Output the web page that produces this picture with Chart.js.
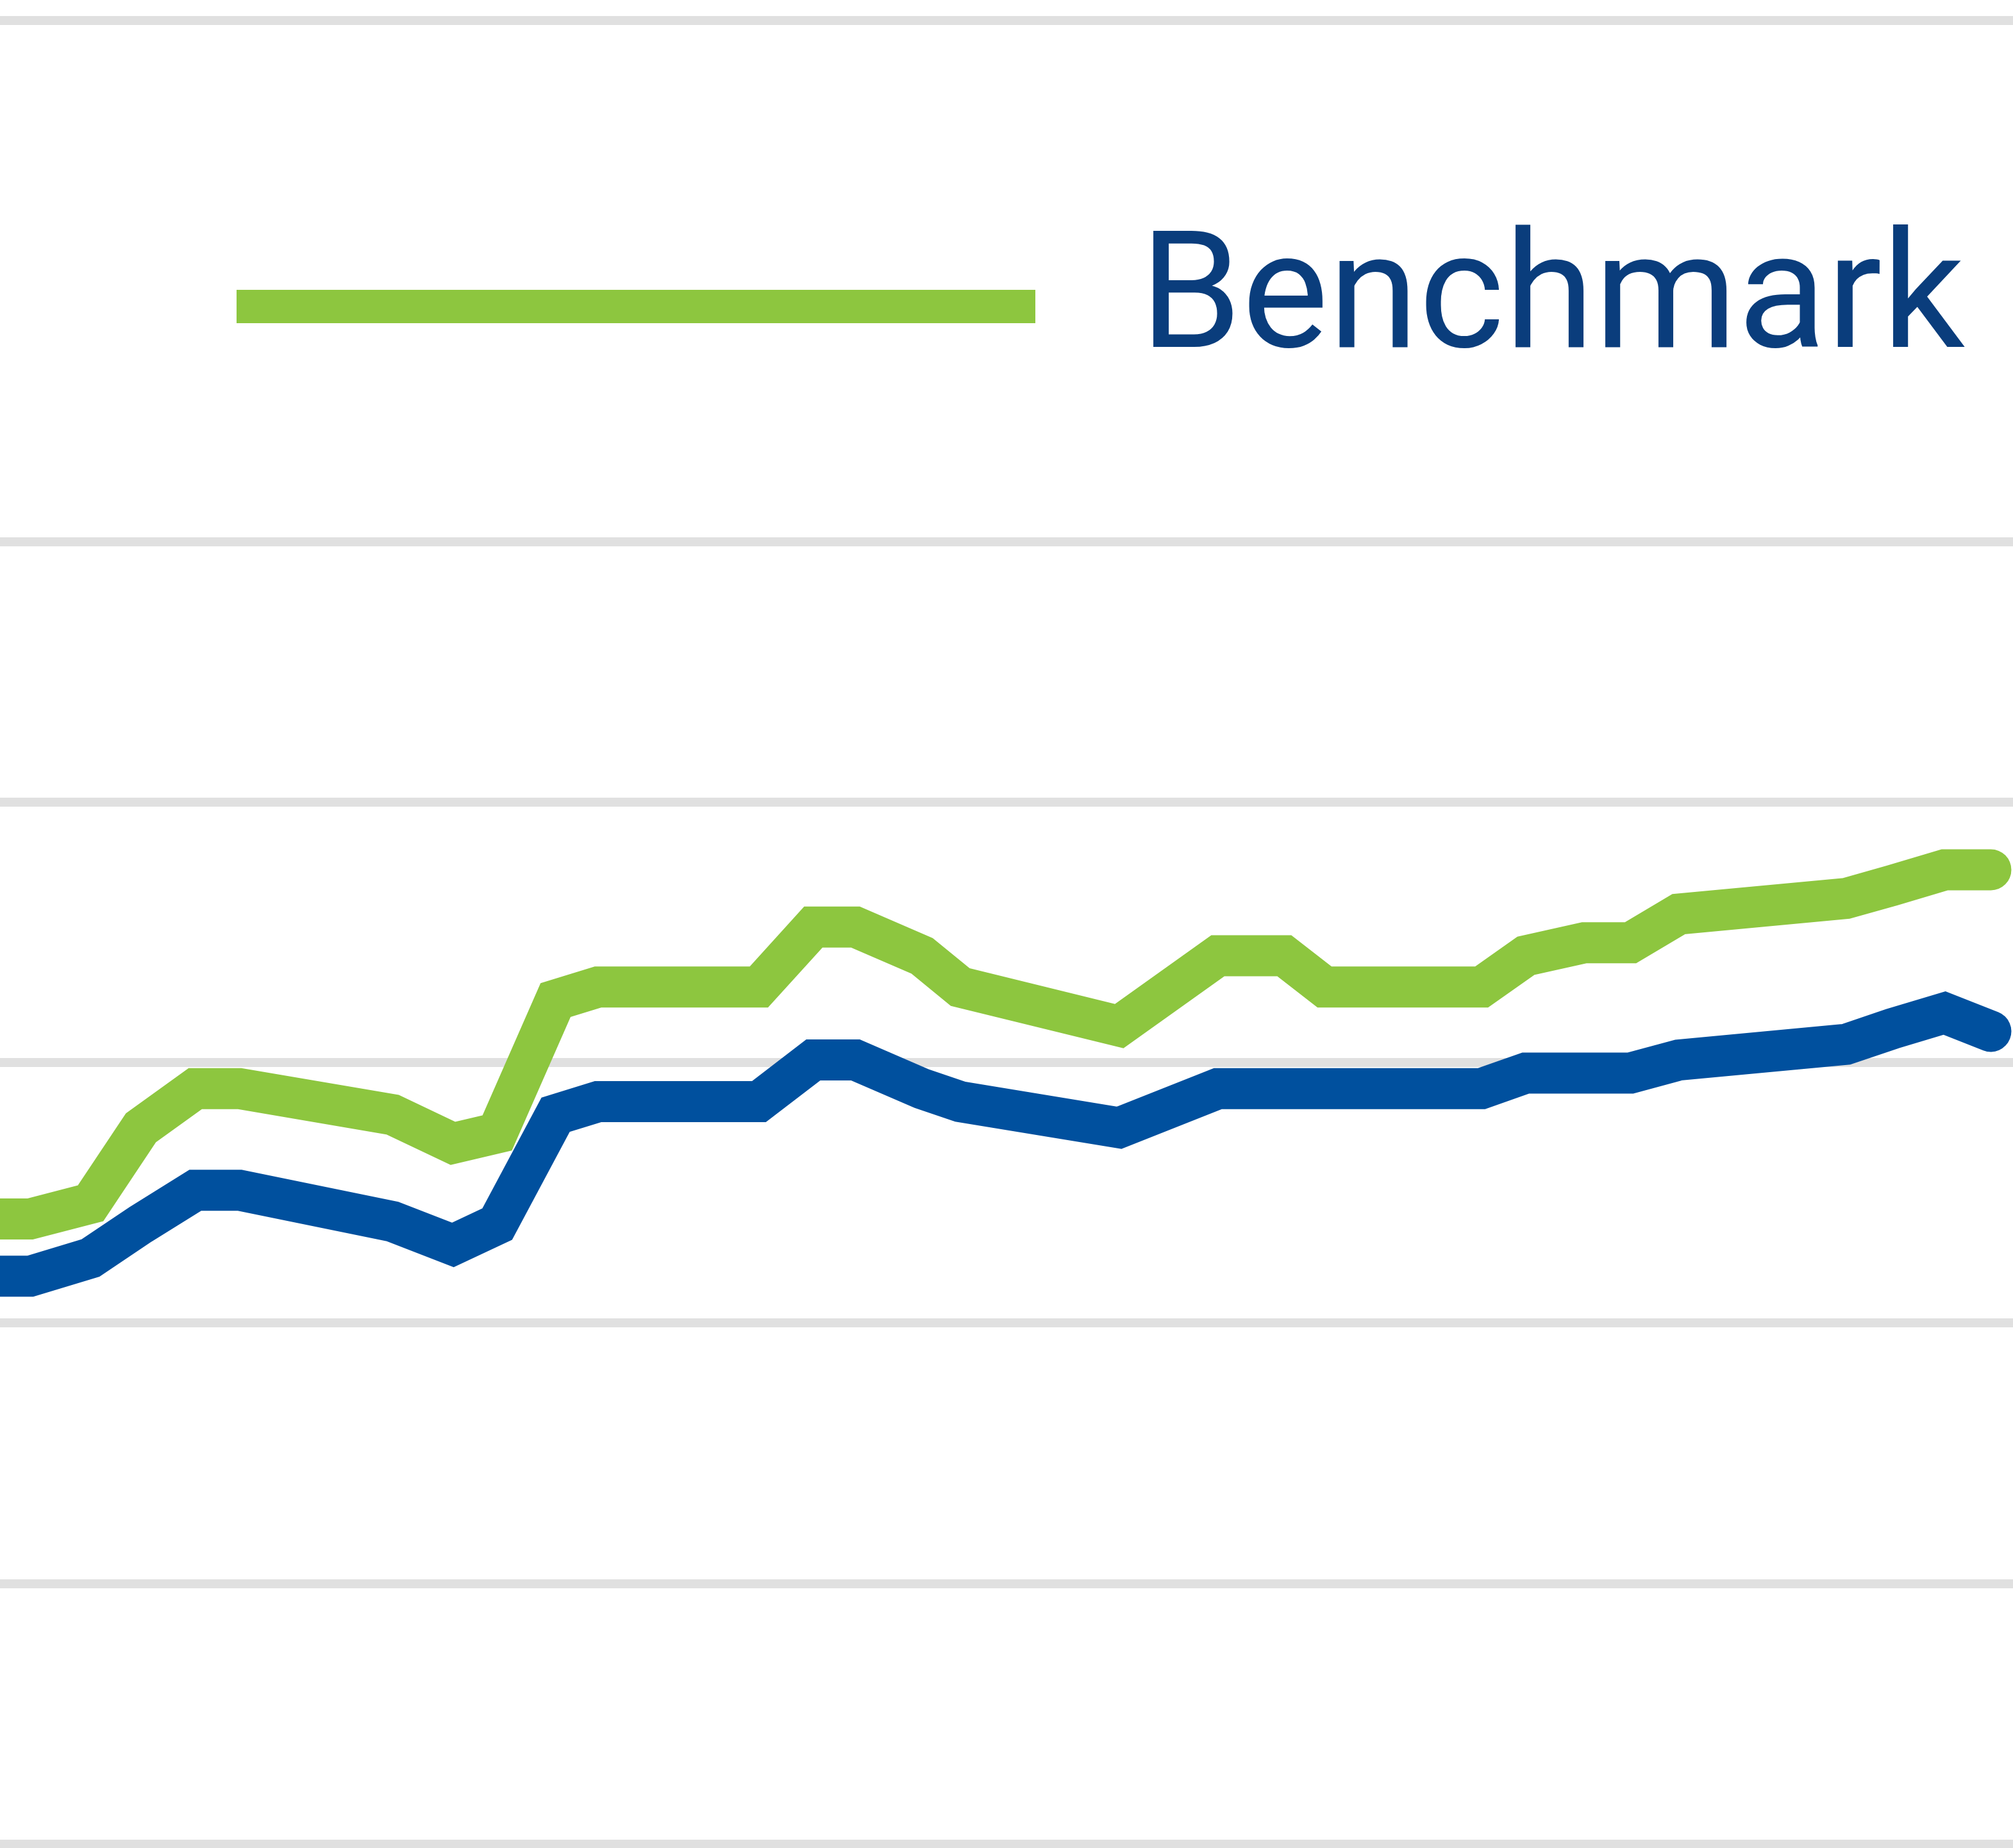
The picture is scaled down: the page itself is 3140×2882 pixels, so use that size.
<!DOCTYPE html>
<html>
<head>
<meta charset="utf-8">
<title>Performance vs Benchmark</title>
<script src="https://cdn.jsdelivr.net/npm/chart.js@4.4.1/dist/chart.umd.min.js"></script>
<style>
    html, body {
        margin: 0;
        padding: 0;
        background: #ffffff;
        overflow: hidden;
    }
    #chartWrap {
        position: relative;
        width: 3140px;
        height: 2882px;
    }
    #legend {
        position: absolute;
        left: 0;
        top: 0;
        width: 100%;
        pointer-events: none;
    }
    #legend .swatch {
        position: absolute;
        left: 369px;
        top: 452px;
        width: 1246px;
        height: 52px;
        background: #8dc63f;
    }
    #legend .label {
        position: absolute;
        left: 1778px;
        top: 326px;
        font-family: Roboto, "DejaVu Sans", sans-serif;
        font-size: 255px;
        line-height: 1;
        color: #0a3d7c;
        white-space: nowrap;
    }
</style>
</head>
<body>
<div id="chartWrap">
    <canvas id="performanceChart"></canvas>
    <div id="legend">
        <span class="swatch"></span>
        <span class="label">Benchmark</span>
    </div>
</div>
<script>
// Time positions of the data points (share of the visible period, 0-100)
const periods = [0, 1.5, 4.5, 7.0, 9.7, 11.9, 19.5, 22.5, 24.7, 27.6, 29.7, 37.7, 40.4, 42.5,
    45.8, 47.7, 55.6, 60.5, 63.8, 65.8, 73.6, 75.8, 78.7, 81.0, 83.4, 91.7, 94.0, 96.6, 98.9];

// Portfolio (blue line)
const portfolioValues = [21.8, 21.8, 22.5, 23.8, 25.1, 25.1, 23.9, 23.0, 23.8, 28.0, 28.5, 28.5, 30.1, 30.1,
    29.0, 28.5, 27.5, 29.0, 29.0, 29.0, 29.0, 29.6, 29.6, 29.6, 30.1, 30.7, 31.3, 31.9, 31.2];

// Benchmark (green line)
const benchmarkValues = [24.0, 24.0, 24.6, 27.5, 29.0, 29.0, 28.0, 26.9, 27.3, 32.4, 32.9, 32.9, 35.2, 35.2,
    34.1, 32.9, 31.4, 34.1, 34.1, 32.9, 32.9, 34.1, 34.6, 34.6, 35.7, 36.3, 36.8, 37.4, 37.4];

// Value axis gridlines
const yTicks = [0, 10, 20, 30, 40, 50, 60, 70];
// gridline hidden behind the legend strip
const hiddenGridValue = 60;

function toPoints(values) {
    return periods.map((x, i) => ({ x: x, y: values[i] }));
}

function createPerformanceChart() {
    const ctx = document.getElementById('performanceChart').getContext('2d');
    new Chart(ctx, {
        type: 'line',
        data: {
            datasets: [{
                label: 'Portfolio',
                data: toPoints(portfolioValues),
                borderColor: '#00509e',
                borderWidth: 64,
                borderCapStyle: 'round',
                borderJoinStyle: 'miter',
                pointRadius: 0,
                tension: 0,
                fill: false
            }, {
                label: 'Benchmark',
                data: toPoints(benchmarkValues),
                borderColor: '#8dc63f',
                borderWidth: 64,
                borderCapStyle: 'round',
                borderJoinStyle: 'miter',
                pointRadius: 0,
                tension: 0,
                fill: false
            }]
        },
        options: {
            responsive: true,
            maintainAspectRatio: false,
            animation: false,
            devicePixelRatio: 1,
            layout: {
                padding: { top: 32, bottom: 6, left: 0, right: 0 }
            },
            scales: {
                x: {
                    type: 'linear',
                    min: 0,
                    max: 100,
                    display: false
                },
                y: {
                    min: yTicks[0],
                    max: yTicks[yTicks.length - 1],
                    ticks: {
                        display: false,
                        stepSize: yTicks[1] - yTicks[0]
                    },
                    border: { display: false },
                    grid: {
                        drawTicks: false,
                        lineWidth: 14,
                        color: (c) => (c.tick && c.tick.value === hiddenGridValue) ? 'rgba(0,0,0,0)' : '#e0e0e0'
                    }
                }
            },
            plugins: {
                legend: { display: false },
                tooltip: { enabled: false }
            }
        }
    });
}

document.addEventListener('DOMContentLoaded', () => {
    createPerformanceChart();
});
</script>
</body>
</html>
